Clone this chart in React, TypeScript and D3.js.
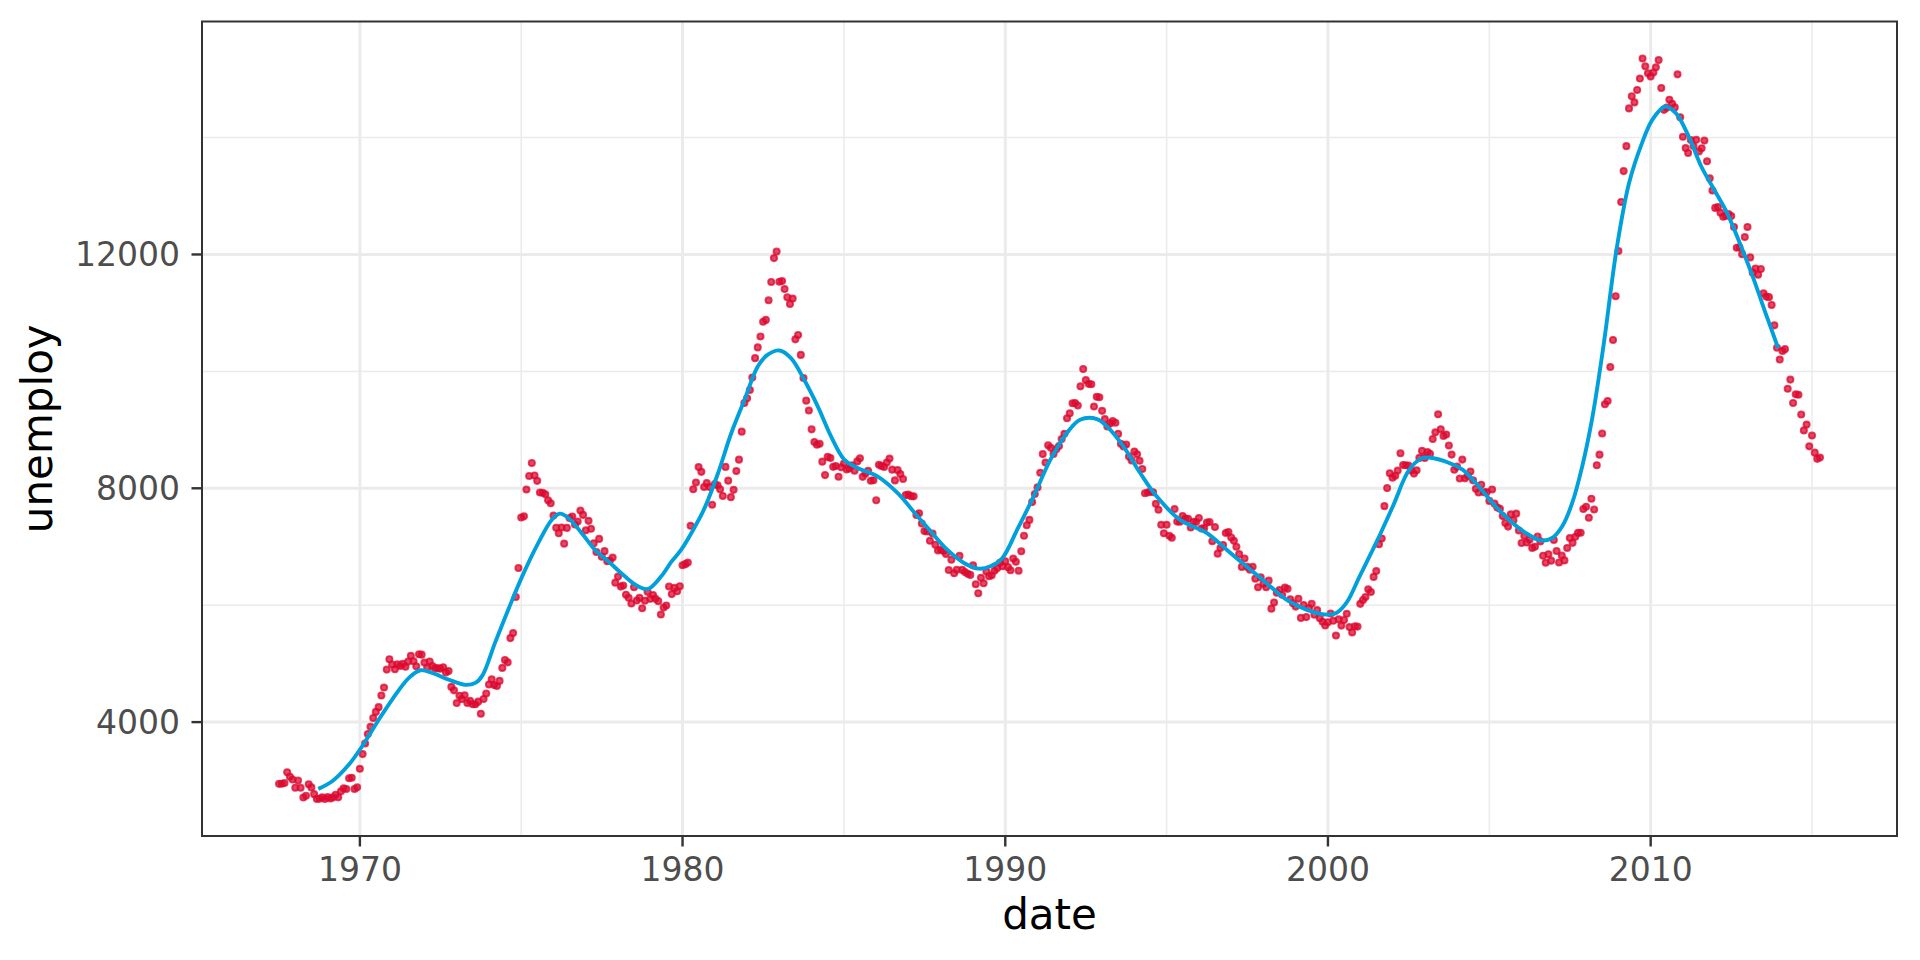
import React from "react";
import * as d3 from "d3";

// Monthly US unemployment (thousands), July 1967 – April 2015
const startYear = 1967;
const startMonth = 6; // July (0-based)
const unemploy1960s = [
  2944, 2945, 2958, 3143, 3066, 3018,
  2878, 3001, 2877, 2709, 2740, 2938, 2883, 2768, 2686, 2689, 2715, 2685,
  2718, 2692, 2712, 2758, 2713, 2816, 2868, 2856, 3040, 3049, 2856, 2884,
];
const unemploy1970s = [
  3201, 3453, 3635, 3797, 3919, 4071, 4175, 4256, 4456, 4591, 4898, 5076,
  4986, 4903, 4987, 4959, 4996, 4949, 5035, 5134, 5042, 4954, 5161, 5154,
  5019, 4928, 5038, 4959, 4922, 4923, 4913, 4939, 4849, 4875, 4602, 4543,
  4326, 4452, 4394, 4459, 4329, 4363, 4305, 4305, 4350, 4144, 4396, 4489,
  4644, 4731, 4634, 4618, 4705, 4927, 5063, 5022, 5437, 5523, 6140, 6636,
  7501, 7520, 7978, 8210, 8433, 8220, 8127, 7928, 7923, 7897, 7794, 7744,
  7534, 7326, 7230, 7330, 7053, 7322, 7490, 7518, 7380, 7430, 7620, 7545,
  7280, 7443, 7307, 7059, 6911, 7134, 6829, 6925, 6751, 6763, 6815, 6386,
  6489, 6318, 6337, 6180, 6127, 6028, 6309, 6080, 6125, 5947, 6077, 6228,
  6109, 6173, 6109, 6069, 5840, 5959, 5996, 6320, 6190, 6296, 6238, 6325,
];
const unemploy1980s = [
  6683, 6702, 6729, 7358, 7984, 8098, 8363, 8281, 8021, 8088, 8023, 7718,
  8071, 8051, 7982, 7869, 8366, 8131, 7848, 7973, 8295, 8490, 8969, 9458,
  9540, 9682, 9896, 10226, 10410, 10597, 10849, 10881, 11217, 11529, 11938, 12051,
  11534, 11545, 11408, 11268, 11154, 11246, 10548, 10623, 10282, 9887, 9499, 9331,
  9008, 8791, 8746, 8762, 8456, 8226, 8537, 8519, 8367, 8381, 8198, 8358,
  8423, 8321, 8339, 8395, 8302, 8460, 8513, 8196, 8248, 8298, 8128, 8138,
  7795, 8402, 8383, 8364, 8439, 8508, 8319, 8135, 8310, 8243, 8159, 7883,
  7892, 7865, 7862, 7542, 7574, 7398, 7268, 7261, 7102, 7227, 7035, 6936,
  6953, 6929, 6876, 6601, 6779, 6546, 6605, 6843, 6604, 6568, 6537, 6518,
  6682, 6359, 6205, 6468, 6375, 6577, 6495, 6511, 6590, 6630, 6725, 6667,
];
const unemploy1990s = [
  6752, 6651, 6598, 6797, 6742, 6590, 6922, 7188, 7368, 7459, 7764, 7901,
  8015, 8265, 8586, 8439, 8736, 8692, 8586, 8666, 8722, 8842, 8931, 9198,
  9283, 9454, 9460, 9415, 9744, 10040, 9850, 9787, 9781, 9398, 9565, 9557,
  9325, 9183, 9056, 9110, 9149, 9121, 8930, 8763, 8714, 8750, 8542, 8477,
  8630, 8583, 8470, 8331, 7915, 7927, 7946, 7933, 7734, 7632, 7375, 7230,
  7375, 7187, 7153, 7645, 7430, 7427, 7527, 7484, 7478, 7328, 7426, 7423,
  7491, 7313, 7318, 7415, 7423, 7095, 7337, 6882, 6979, 7031, 7236, 7253,
  7158, 7102, 7000, 6873, 6655, 6799, 6655, 6608, 6656, 6454, 6308, 6476,
  6368, 6306, 6422, 5941, 6047, 6212, 6259, 6179, 6300, 6280, 6100, 6032,
  5976, 6111, 5783, 6004, 5796, 5951, 6025, 5838, 5915, 5778, 5716, 5653,
];
const unemploy2000s = [
  5708, 5858, 5733, 5481, 5758, 5651, 5747, 5853, 5625, 5534, 5639, 5634,
  6023, 6089, 6141, 6271, 6226, 6484, 6583, 7042, 7142, 7694, 8003, 8258,
  8182, 8215, 8304, 8599, 8399, 8393, 8390, 8304, 8251, 8307, 8520, 8640,
  8520, 8618, 8588, 8842, 8957, 9266, 9011, 8896, 8921, 8732, 8576, 8317,
  8370, 8167, 8491, 8170, 8212, 8286, 8136, 7990, 7927, 8061, 7932, 7934,
  7784, 7980, 7737, 7672, 7651, 7524, 7406, 7345, 7553, 7453, 7566, 7279,
  7064, 7184, 7072, 7120, 6980, 7001, 7175, 7091, 6847, 6727, 6872, 6762,
  7116, 6927, 6731, 6850, 6766, 6979, 7149, 7067, 7170, 7237, 7240, 7645,
  7685, 7497, 7822, 7637, 8395, 8575, 8937, 9438, 9494, 10074, 10538, 11286,
  12058, 12898, 13426, 13853, 14499, 14707, 14601, 14814, 15009, 15352, 15219, 15098,
];
const unemploy2010s = [
  15046, 15113, 15202, 15325, 14849, 14474, 14512, 14648, 14579, 14516, 15081, 14348,
  14013, 13820, 13737, 13957, 13855, 13962, 13763, 13818, 13948, 13594, 13302, 13093,
  12797, 12813, 12713, 12646, 12660, 12692, 12656, 12471, 12115, 12124, 12005, 12298,
  12471, 11950, 11689, 11760, 11654, 11751, 11335, 11279, 11270, 11136, 10787, 10404,
  10202, 10349, 10380, 9702, 9859, 9460, 9608, 9599, 9262, 8990, 9090, 8717,
  8903, 8610, 8504, 8526,
];

// Smoothed trend: decimal year, value
const smoothYears = [
  1968.71, 1969.14, 1969.66, 1970.07, 1970.59, 1971.0, 1971.52, 1971.88, 1972.24, 1972.75,
  1973.27, 1973.58, 1973.8, 1974.19, 1974.61, 1975.02, 1975.53, 1975.95, 1976.2, 1976.46,
  1976.87, 1977.28, 1977.7, 1978.21, 1978.62, 1978.93, 1979.34, 1979.65, 1979.96, 1980.37,
  1980.68, 1981.1, 1981.51, 1981.92, 1982.33, 1982.64, 1983.0, 1983.36, 1983.77, 1984.19,
  1984.6, 1985.01, 1985.42, 1986.04, 1986.66, 1987.28, 1987.69, 1988.2, 1988.72, 1989.18,
  1989.54, 1989.9, 1990.37, 1990.88, 1991.4, 1991.91, 1992.32, 1992.84, 1993.15, 1993.66,
  1994.18, 1994.69, 1995.41, 1996.24, 1996.86, 1997.47, 1998.09, 1998.71, 1999.33, 1999.95,
  2000.26, 2000.57, 2000.98, 2001.49, 2002.01, 2002.52, 2002.93, 2003.24, 2003.76, 2004.17,
  2004.58, 2005.1, 2005.61, 2006.13, 2006.59, 2006.95, 2007.26, 2007.57, 2007.88, 2008.19,
  2008.55, 2008.94, 2009.33, 2009.73, 2010.05, 2010.45, 2010.78, 2011.18, 2011.57, 2011.97,
  2012.37, 2012.76, 2013.16, 2013.56, 2013.95,
];
const smoothValues = [
  2858, 2988, 3274, 3587, 4044, 4386, 4757, 4887, 4842, 4727,
  4637, 4671, 4800, 5360, 5940, 6480, 7065, 7463, 7566, 7492,
  7236, 6950, 6750, 6494, 6323, 6278, 6494, 6740, 6950, 7330,
  7660, 8262, 8946, 9515, 10085, 10285, 10358, 10228, 9857, 9401,
  8888, 8489, 8347, 8204, 7920, 7520, 7263, 6950, 6723, 6625,
  6665, 6800, 7292, 7862, 8489, 8946, 9173, 9185, 9059, 8717,
  8262, 7862, 7463, 7236, 6950, 6665, 6381, 6095, 5924, 5839,
  5868, 6039, 6494, 7065, 7691, 8318, 8518, 8518, 8433, 8318,
  8091, 7749, 7463, 7236, 7110, 7150, 7349, 7749, 8375, 9200,
  10485, 12080, 13221, 13905, 14303, 14531, 14418, 14018, 13505, 13106,
  12708, 12195, 11624, 10998, 10399,
];

const xTickYears = [1970, 1980, 1990, 2000, 2010];
const xMinorYears = [1975, 1985, 1995, 2005, 2015];
const yTicks = [4000, 8000, 12000];
const yMinor = [6000, 10000, 14000];

const unemploy = [
  ...unemploy1960s,
  ...unemploy1970s,
  ...unemploy1980s,
  ...unemploy1990s,
  ...unemploy2000s,
  ...unemploy2010s,
];

function decYear(y: number): Date {
  const yr = Math.floor(y);
  const s = Date.UTC(yr, 0, 1);
  const e = Date.UTC(yr + 1, 0, 1);
  return new Date(s + (y - yr) * (e - s));
}

export default function App() {
  const W = 1920;
  const H = 960;
  const L = 202;
  const R = 1897;
  const T = 21.5;
  const B = 836;

  const data = unemploy.map((v, i) => ({
    date: new Date(Date.UTC(startYear, startMonth + i, 1)),
    value: v,
  }));
  const smooth = smoothYears.map((y, i) => ({ date: decYear(y), value: smoothValues[i] }));

  const t0 = data[0].date.getTime();
  const t1 = data[data.length - 1].date.getTime();
  const tp = (t1 - t0) * 0.05;
  const x = d3.scaleUtc().domain([new Date(t0 - tp), new Date(t1 + tp)]).range([L, R]);

  const vMin = d3.min(unemploy) as number;
  const vMax = d3.max(unemploy) as number;
  const vp = (vMax - vMin) * 0.05;
  const y = d3.scaleLinear().domain([vMin - vp, vMax + vp]).range([B, T]);

  const line = d3
    .line<{ date: Date; value: number }>()
    .x((d) => x(d.date))
    .y((d) => y(d.value))
    .curve(d3.curveCatmullRom.alpha(0.5));

  const font = "'DejaVu Sans', Verdana, sans-serif";
  const gridCol = "#EBEBEB";
  const dotCol = "#DC0A30";

  return (
    <svg
      width={W}
      height={H}
      style={{ position: "absolute", left: 0, top: 0, display: "block", background: "#fff" }}
      fontFamily={font}
    >
      <rect x={0} y={0} width={W} height={H} fill="#fff" />
      {/* minor grid */}
      {xMinorYears.map((yr) => {
        const px = x(new Date(Date.UTC(yr, 0, 1)));
        return <line key={"xm" + yr} x1={px} x2={px} y1={T} y2={B} stroke={gridCol} strokeWidth={1.5} />;
      })}
      {yMinor.map((v) => (
        <line key={"ym" + v} x1={L} x2={R} y1={y(v)} y2={y(v)} stroke={gridCol} strokeWidth={1.5} />
      ))}
      {/* major grid */}
      {xTickYears.map((yr) => {
        const px = x(new Date(Date.UTC(yr, 0, 1)));
        return <line key={"xg" + yr} x1={px} x2={px} y1={T} y2={B} stroke={gridCol} strokeWidth={3} />;
      })}
      {yTicks.map((v) => (
        <line key={"yg" + v} x1={L} x2={R} y1={y(v)} y2={y(v)} stroke={gridCol} strokeWidth={3} />
      ))}

      {/* points */}
      {data.map((d, i) => (
        <circle
          key={i}
          cx={x(d.date)}
          cy={y(d.value)}
          r={3.1}
          fill={dotCol}
          fillOpacity={0.75}
          stroke={dotCol}
          strokeOpacity={0.75}
          strokeWidth={1.9}
        />
      ))}

      {/* smooth line */}
      <path d={line(smooth) || ""} fill="none" stroke="#00A0DC" strokeWidth={3.9} strokeLinejoin="round" strokeLinecap="butt" />

      {/* panel border */}
      <rect x={L} y={T} width={R - L} height={B - T} fill="none" stroke="#333333" strokeWidth={2} />

      {/* x axis ticks */}
      {xTickYears.map((yr) => {
        const px = x(new Date(Date.UTC(yr, 0, 1)));
        return (
          <g key={"xt" + yr}>
            <line x1={px} x2={px} y1={B} y2={B + 10.5} stroke="#333333" strokeWidth={2.4} />
            <text x={px} y={880.5} textAnchor="middle" fontSize={33} fill="#4D4D4D">
              {yr}
            </text>
          </g>
        );
      })}
      {/* y axis ticks */}
      {yTicks.map((v) => (
        <g key={"yt" + v}>
          <line x1={L - 10.5} x2={L} y1={y(v)} y2={y(v)} stroke="#333333" strokeWidth={2.4} />
          <text x={180} y={y(v) + 12} textAnchor="end" fontSize={33} fill="#4D4D4D">
            {v}
          </text>
        </g>
      ))}

      {/* axis titles */}
      <text x={(L + R) / 2} y={929} textAnchor="middle" fontSize={42} fill="#000">
        date
      </text>
      <text
        transform={`translate(52, ${(T + B) / 2}) rotate(-90)`}
        textAnchor="middle"
        fontSize={42}
        fill="#000"
      >
        unemploy
      </text>
    </svg>
  );
}
